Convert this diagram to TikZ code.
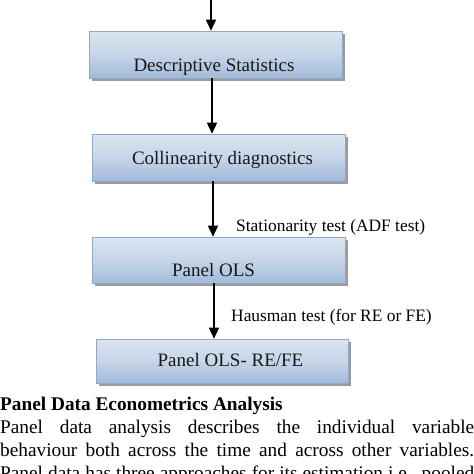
\documentclass[tikz,border=0pt]{standalone}
\usepackage{fontspec}
\setmainfont{Liberation Serif}
\usetikzlibrary{arrows.meta,shadows}
\definecolor{boxtop}{HTML}{DCE5F0}
\definecolor{boxmid}{HTML}{C6D5E8}
\definecolor{boxbot}{HTML}{A2BBDA}
\definecolor{boxline}{HTML}{8FA9C9}
\definecolor{shadowgray}{HTML}{9C9C9C}
\tikzset{
  flowbox/.style={rectangle, draw=boxline, line width=0.6pt, inner sep=0pt,
    top color=boxtop, bottom color=boxbot, middle color=boxmid,
    drop shadow={shadow xshift=3pt, shadow yshift=-3pt, fill=shadowgray, opacity=1}},
  boxtext/.style={anchor=base, inner sep=0pt, font=\fontsize{19}{21}\selectfont, text=black!90},
  lbl/.style={anchor=base west, inner sep=0pt, font=\fontsize{17.4}{20}\selectfont},
  arr/.style={line width=1.5pt, -{Triangle[length=11pt,width=10pt]}},
  para/.style={anchor=base west, inner sep=0pt, font=\fontsize{19.3}{21}\selectfont}
}
\begin{document}
\begin{tikzpicture}[x=1pt,y=-1pt]
\clip (0,0) rectangle (474,474);
\fill[white] (0,0) rectangle (474,474);
% boxes
\node[flowbox, minimum width=253pt, minimum height=47pt] (b1) at (215.5,54.5) {};
\node[flowbox, minimum width=253pt, minimum height=47pt] (b2) at (218.5,157.5) {};
\node[flowbox, minimum width=253pt, minimum height=46pt] (b3) at (218.5,260) {};
\node[flowbox, minimum width=252pt, minimum height=44pt] (b4) at (222,361) {};
% box texts
\node[boxtext] (t1) at (214,71) {Descriptive Statistics};
\node[boxtext] (t2) at (222.5,164.5) {Collinearity diagnostics};
\node[boxtext] (t3) at (213.5,276) {Panel OLS};
\node[boxtext] (t4) at (230.5,366) {Panel OLS- RE/FE};
% connectors
\coordinate (top) at (211,-5);
\draw[arr] (top) -- (top |- b1.north);
\draw[arr] (b1.south -| 212,0) -- (b2.north -| 212,0);
\draw[arr] (b2.south -| 213,0) -- (b3.north -| 213,0);
\draw[arr] (b3.south -| 214,0) -- (b4.north -| 214,0);
% edge labels
\node[lbl] (l1) at (236,231) {Stationarity test (ADF test)};
\node[lbl] (l2) at (231,321) {Hausman test (for RE or FE)};
% paragraph
\node[para, font=\fontsize{19.3}{21}\selectfont\bfseries] (p0) at (0,410) {Panel Data Econometrics Analysis};
\node[para] (p1) at (0,433) {\makebox[474pt][s]{Panel data analysis describes the individual variable}};
\node[para] (p2) at (0,456) {\makebox[474pt][s]{behaviour both across the time and across other variables.}};
\node[para] (p3) at (0,479) {\makebox[474pt][s]{Panel data has three approaches for its estimation i.e., pooled}};
\end{tikzpicture}
\end{document}
